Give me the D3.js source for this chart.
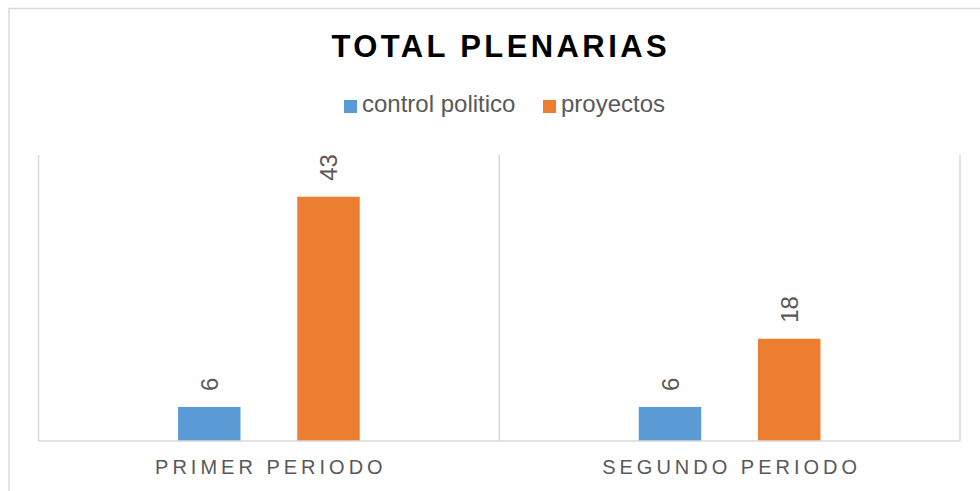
<!DOCTYPE html>
<html><head><meta charset="utf-8">
<script src="https://cdn.jsdelivr.net/npm/d3@7"></script>
<style>
html,body{margin:0;padding:0;background:#fff;}
svg{display:block;font-family:Arial,"Liberation Sans",sans-serif;}
</style></head>
<body><svg id="c" width="980" height="491"></svg>
<script>
const title = "TOTAL PLENARIAS";
const categories = ["PRIMER PERIODO", "SEGUNDO PERIODO"];
const seriesNames = ["control politico", "proyectos"];
const controlPolitico = [6, 6];
const proyectos = [43, 18];
const seriesColors = ["#5b9bd5", "#ed7d31"];

(function () {
const svg = d3.select("#c");
const grid = "#d9d9d9";

// outer chart border (top + left visible)
svg.append("rect").attr("x", 9).attr("y", 8.5).attr("width", 990).attr("height", 500)
  .attr("fill", "none").attr("stroke", grid).attr("stroke-width", 1.5);

const pLeft = 38.5, pRight = 960, pTop = 157, pBottom = 441;
const x0 = d3.scaleBand().domain(categories).range([pLeft, pRight]).padding(0);
const x1 = d3.scaleBand().domain(seriesNames).range([0, x0.bandwidth()])
  .paddingInner(0.476).paddingOuter(1.17);
const y = d3.scaleLinear().domain([0, 50]).range([pBottom, pTop]);

// vertical category separators
const seps = categories.map(c => x0(c)).concat([x0.range()[1]]);
svg.append("g").selectAll("line").data(seps).join("line")
  .attr("x1", d => d).attr("x2", d => d).attr("y1", 155).attr("y2", pBottom)
  .attr("stroke", grid).attr("stroke-width", 1.5);

const data = categories.map((c, i) => ({cat: c, vals: [controlPolitico[i], proyectos[i]]}));

const groups = svg.append("g").selectAll("g").data(data).join("g")
  .attr("transform", d => `translate(${x0(d.cat)},0)`);

groups.selectAll("rect").data(d => d.vals.map((v, j) => ({s: seriesNames[j], v, j})))
  .join("rect")
  .attr("x", d => x1(d.s)).attr("width", x1.bandwidth())
  .attr("y", d => y(d.v)).attr("height", d => y(0) - y(d.v))
  .attr("fill", d => seriesColors[d.j]);

groups.selectAll("text").data(d => d.vals.map((v, j) => ({s: seriesNames[j], v, j})))
  .join("text")
  .attr("transform", d => `translate(${x1(d.s) + x1.bandwidth() / 2 + 9},${y(d.v) - 16}) rotate(-90)`)
  .attr("text-anchor", "start")
  .attr("font-size", 24).attr("fill", "#595959")
  .text(d => d.v);

// baseline axis
svg.append("line").attr("x1", pLeft).attr("x2", pRight).attr("y1", pBottom).attr("y2", pBottom)
  .attr("stroke", grid).attr("stroke-width", 1.5);

// category labels
svg.append("g").selectAll("text").data(categories).join("text")
  .attr("x", d => x0(d) + x0.bandwidth() / 2 + 2).attr("y", 474)
  .attr("text-anchor", "middle").attr("font-size", 20).attr("letter-spacing", 4)
  .attr("fill", "#595959").text(d => d);

// title
svg.append("text").attr("x", 499 + 1.7).attr("y", 57).attr("text-anchor", "middle")
  .attr("font-size", 31).attr("font-weight", "bold").attr("letter-spacing", 3.4)
  .attr("fill", "#000").text(title);

// legend
const legendX = [344, 543];
const lg = svg.append("g").selectAll("g").data(seriesNames).join("g")
  .attr("transform", (d, i) => `translate(${legendX[i]},100)`);
lg.append("rect").attr("width", 13).attr("height", 13).attr("fill", (d, i) => seriesColors[i]);
lg.append("text").attr("x", 18).attr("y", 12).attr("font-size", 24).attr("fill", "#595959").text(d => d);
})();
</script></body></html>
